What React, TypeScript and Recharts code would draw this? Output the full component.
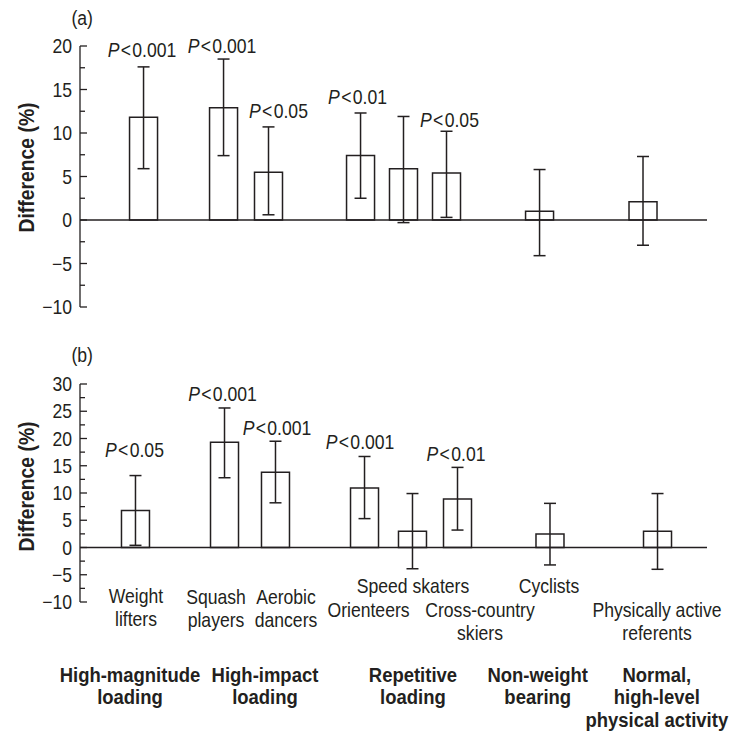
import { ComposedChart, Bar, ErrorBar, Line, LabelList, XAxis, YAxis, ReferenceLine, Label } from 'recharts'

const FONT = "'Liberation Sans', Arial, sans-serif"
const INK = '#231f20'
const SX = 0.88 // horizontal squeeze to mimic the condensed face

// athlete groups, in the order of the bars
const catLines = [
  ['Weight', 'lifters'],
  ['Squash', 'players'],
  ['Aerobic', 'dancers'],
  ['Orienteers'],
  ['Speed skaters'],
  ['Cross-country', 'skiers'],
  ['Cyclists'],
  ['Physically active', 'referents'],
]

const groupLines = [
  ['High-magnitude', 'loading'],
  ['High-impact', 'loading'],
  ['Repetitive', 'loading'],
  ['Non-weight', 'bearing'],
  ['Normal,', 'high-level', 'physical activity'],
]

// x position of each bar / group on a 0-100 axis
const posA = [10.21, 22.97, 30.14, 44.82, 51.67, 58.53, 73.37, 89.87]
const posB = [8.77, 22.97, 31.1, 45.3, 52.95, 60.13, 74.88, 92.03]
const groupPos = [7.97, 29.5, 53.1, 73.0, 92.0]

// panel (a)
const diffA = [11.8, 12.9, 5.5, 7.4, 5.9, 5.4, 1.0, 2.1]
const loA = [5.9, 7.4, 0.6, 2.5, -0.3, 0.3, -4.1, -2.9]
const hiA = [17.6, 18.5, 10.7, 12.3, 11.9, 10.2, 5.8, 7.3]
const pA = ['0.001', '0.001', '0.05', '0.01', '', '0.05', '', '']

// panel (b)
const diffB = [6.8, 19.3, 13.8, 10.9, 3.0, 8.9, 2.5, 3.0]
const loB = [0.4, 12.8, 8.2, 5.3, -3.9, 3.2, -3.2, -4.0]
const hiB = [13.2, 25.6, 19.5, 16.7, 9.9, 14.7, 8.1, 9.9]
const pB = ['0.05', '0.001', '0.001', '0.001', '', '0.01', '', '']

const majorA = [-10, -5, 0, 5, 10, 15, 20]
const majorB = [-10, -5, 0, 5, 10, 15, 20, 25, 30]

// small label nudges [dx, dy] in px
const pNudgeA = [[-2, -3], [-2, 1], [9.5, -1.5], [-3.5, -2], [0, 0], [2.5, 3], [0, 0], [0, 0]]
const pNudgeB = [[-0.5, -11.5], [-1.5, 0], [2, 0.5], [-4, 0], [0, 0], [-1, 1], [0, 0], [0, 0]]
const catNudge = [[1, 0.5], [-8, 1.5], [11, 1.5], [4.5, 15], [1, -8.7], [23, 15], [-0.5, -8.7], [0, 15]]

function buildRows(pos: number[], diff: number[], lo: number[], hi: number[], p: string[]) {
  return pos.map((x, i) => ({
    x,
    diff: diff[i],
    err: [diff[i] - lo[i], hi[i] - diff[i]],
    hi: hi[i],
    p: p[i],
  }))
}

function withMinor(major: number[]) {
  return major.flatMap((v, i) => (i < major.length - 1 ? [v, v + 2.5] : [v]))
}

function NText({ x, y, rotate, children, ...rest }: any) {
  const rot = rotate ? ` rotate(${rotate})` : ''
  return (
    <text transform={`translate(${x} ${y})${rot} scale(${SX} 1)`} fill={INK} fontFamily={FONT} {...rest}>
      {children}
    </text>
  )
}

function YTick(props: any) {
  const { x, y, payload } = props
  const v = payload.value
  const major = v % 5 === 0
  return (
    <g>
      <line x1={x} x2={x + (major ? 7 : 5)} y1={y} y2={y} stroke={INK} strokeWidth={1.3} />
      {major && (
        <NText x={x - 8} y={y + 7} textAnchor="end" fontSize={20}>
          {String(v).replace('-', '\u2212')}
        </NText>
      )}
    </g>
  )
}

function yTitle(shift: number) {
  return (props: any) => {
    const vb = props.viewBox ?? { x: 0, y: 0, width: 80, height: 0 }
    const cy = vb.y + vb.height / 2 + shift
    return (
      <NText x={34} y={cy} rotate={-90} textAnchor="middle" fontSize={22} fontWeight="bold">
        Difference (%)
      </NText>
    )
  }
}

function pLabel(nudge: number[][]) {
  return (props: any) => {
    const { x, y, index, value } = props
    if (!value) return null
    const [dx, dy] = nudge[index] ?? [0, 0]
    return (
      <NText x={x + dx} y={y - 7 + dy} textAnchor="middle" fontSize={20}>
        <tspan fontStyle="italic">P</tspan>
        <tspan dx={1.5}>&lt;</tspan>
        <tspan dx={1.5}>{value}</tspan>
      </NText>
    )
  }
}

function CatTick(props: any) {
  const { x, y, payload } = props
  const i = posB.indexOf(payload.value)
  if (i < 0) return null
  const [dx, dy] = catNudge[i]
  return (
    <NText x={x + dx} y={y + dy} textAnchor="middle" fontSize={20}>
      {catLines[i].map((s, k) => (
        <tspan key={k} x={0} dy={k === 0 ? 0 : 23.5}>{s}</tspan>
      ))}
    </NText>
  )
}

function groupLabel(i: number) {
  return (props: any) => {
    const vb = props.viewBox ?? { x: 0, y: 0, height: 0 }
    return (
      <NText x={vb.x} y={vb.y + vb.height + 79.5} textAnchor="middle" fontSize={21} fontWeight="bold">
        {groupLines[i].map((s, k) => (
          <tspan key={k} x={0} dy={k === 0 ? 0 : 23}>{s}</tspan>
        ))}
      </NText>
    )
  }
}

const rowsA = buildRows(posA, diffA, loA, hiA, pA)
const rowsB = buildRows(posB, diffB, loB, hiB, pB)

const panelTitle = (top: number): any => ({
  position: 'absolute', left: 70, top, width: 24, textAlign: 'center',
  fontSize: 20, lineHeight: '24px', color: INK, fontFamily: FONT,
  transform: `scaleX(${SX})`,
})

export default function App() {
  return (
    <div style={{ position: 'absolute', left: 0, top: 0, width: 737, height: 734, background: '#fff', fontFamily: FONT }}>
      <div style={panelTitle(6)}>(a)</div>
      <div style={panelTitle(343)}>(b)</div>

      <div style={{ position: 'absolute', left: 0, top: 0 }}>
        <ComposedChart width={737} height={320} data={rowsA} margin={{ top: 46, right: 30, bottom: 13, left: 0 }}>
          <XAxis dataKey="x" type="number" domain={[0, 100]} hide height={0} />
          <YAxis type="number" domain={[-10, 20]} ticks={withMinor(majorA)} interval={0} width={80}
            tickSize={0} tickMargin={0} tickLine={false} tick={<YTick />} axisLine={{ stroke: INK, strokeWidth: 1.3 }}>
            <Label content={yTitle(-9)} />
          </YAxis>
          <ReferenceLine y={0} stroke={INK} strokeWidth={1.5} />
          <Bar dataKey="diff" barSize={28} fill="#fff" stroke={INK} strokeWidth={1.5} isAnimationActive={false}>
            <ErrorBar dataKey="err" width={6} stroke={INK} strokeWidth={1.5} direction="y" />
          </Bar>
          <Line dataKey="hi" stroke="none" dot={false} activeDot={false} isAnimationActive={false}>
            <LabelList dataKey="p" content={pLabel(pNudgeA)} />
          </Line>
        </ComposedChart>
      </div>

      <div style={{ position: 'absolute', left: 0, top: 320 }}>
        <ComposedChart width={737} height={414} data={rowsB} margin={{ top: 64, right: 30, bottom: 0, left: 0 }}>
          <XAxis dataKey="x" type="number" domain={[0, 100]} ticks={posB} interval={0} height={132}
            axisLine={false} tickLine={false} tickSize={0} tickMargin={0} tick={<CatTick />} />
          <YAxis type="number" domain={[-10, 30]} ticks={withMinor(majorB)} interval={0} width={80}
            tickSize={0} tickMargin={0} tickLine={false} tick={<YTick />} axisLine={{ stroke: INK, strokeWidth: 1.3 }}>
            <Label content={yTitle(-6.5)} />
          </YAxis>
          <ReferenceLine y={0} stroke={INK} strokeWidth={1.5} />
          {groupPos.map((g, i) => (
            <ReferenceLine key={i} x={g} stroke="none" label={groupLabel(i)} />
          ))}
          <Bar dataKey="diff" barSize={28} fill="#fff" stroke={INK} strokeWidth={1.5} isAnimationActive={false}>
            <ErrorBar dataKey="err" width={6} stroke={INK} strokeWidth={1.5} direction="y" />
          </Bar>
          <Line dataKey="hi" stroke="none" dot={false} activeDot={false} isAnimationActive={false}>
            <LabelList dataKey="p" content={pLabel(pNudgeB)} />
          </Line>
        </ComposedChart>
      </div>
    </div>
  )
}
